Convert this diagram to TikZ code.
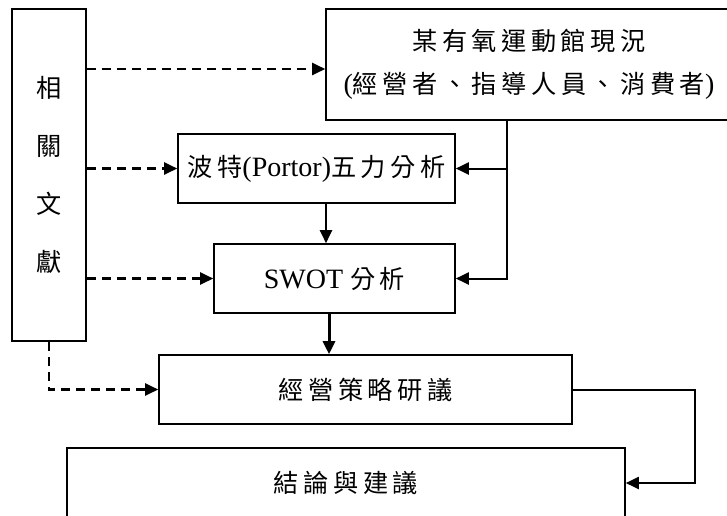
\documentclass[tikz,border=0pt]{standalone}
\usepackage{fontspec}
\setmainfont{Liberation Serif}
\newfontfamily\cjk[LetterSpace=18,Scale=0.90]{Noto Sans CJK TC}
\newcommand\zh[1]{{\cjk #1}}
\usetikzlibrary{arrows.meta}
\begin{document}
\begin{tikzpicture}[x=1pt,y=-1pt,
  box/.style={draw,line width=1.6pt,inner sep=0pt,minimum width=#1,align=center,
    font=\fontsize{28}{43}\selectfont},
  arr/.style={line width=2pt,-{Triangle[length=13pt,width=12pt]}},
  dasharr/.style={line width=2.2pt,dash pattern=on 9pt off 6pt,-{Triangle[length=13pt,width=12pt]}}]
\clip (0,0) rectangle (727,515);
\fill[white] (0,0) rectangle (727,515);
% boxes
\node[box=74pt,minimum height=332pt,font=\fontsize{28}{58}\selectfont] (lit) at (49,175) {\zh{相}\\\zh{關}\\\zh{文}\\\zh{獻}};
\node[box=406pt,minimum height=111pt] (top) at (529,64.5) {\zh{某有氧運動館現況}\\(\zh{經營者、指導人員、消費者})};
\node[box=277pt,minimum height=69pt] (porter) at (316.5,168.5) {\zh{波特}(Portor)\zh{五力分析}};
\node[box=241pt,minimum height=69pt] (swot) at (334.5,278.5) {SWOT \zh{分析}};
\node[box=413pt,minimum height=69pt] (strat) at (365.5,389.5) {\zh{經營策略研議}};
\node[box=558pt,minimum height=70pt] (concl) at (346,483) {\zh{結論與建議}};
% helper coordinates
\coordinate (jx) at (507,0);
\coordinate (px) at (326,0);
\coordinate (sx) at (329,0);
\coordinate (kx) at (695,0);
\coordinate (d1) at (0,69);
% solid connectors
\draw[arr] (top.south -| jx) |- (porter.east);
\draw[arr] (top.south -| jx) |- (swot.east);
\draw[arr] (porter.south -| px) -- (swot.north -| px);
\draw[arr,line width=3pt] (swot.south -| sx) -- (strat.north -| sx);
\draw[arr] (strat.east) -- (strat.east -| kx) |- (concl.east);
% dashed connectors
\draw[dasharr] (lit.east |- d1) -- (top.west |- d1);
\draw[dasharr] (lit.east |- porter.west) -- (porter.west);
\draw[dasharr] (lit.east |- swot.west) -- (swot.west);
\draw[dasharr] (lit.south) |- (strat.west);
\end{tikzpicture}
\end{document}
